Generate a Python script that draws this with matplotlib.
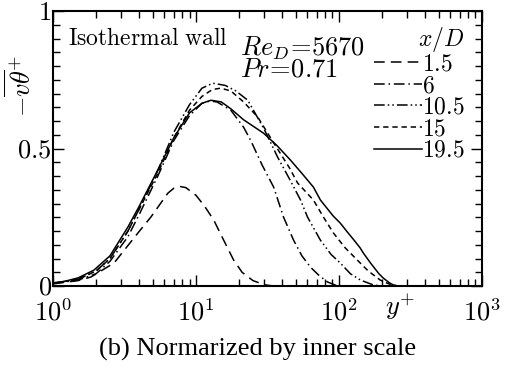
import numpy as np
import matplotlib
matplotlib.use("Agg")
import matplotlib.pyplot as plt
from matplotlib.ticker import MultipleLocator, LogLocator, NullFormatter

plt.rcParams['mathtext.fontset'] = 'cm'
plt.rcParams['font.family'] = 'serif'
plt.rcParams['font.serif'] = ['Liberation Serif', 'DejaVu Serif']

# x/D = 1.5
yp_15 = [1.0, 1.5, 1.84, 2.67, 3.92, 4.83, 6.35, 7.0, 7.8, 8.5, 10.0, 11.5, 13.3, 15.5, 18.3, 21.0, 25.0, 30.0, 35.0]
v_15 = [0.008, 0.02, 0.033, 0.084, 0.193, 0.251, 0.338, 0.356, 0.362, 0.358, 0.33, 0.29, 0.24, 0.17, 0.095, 0.05, 0.02, 0.005, 0.0]

# x/D = 6
yp_6 = [1.0, 1.5, 2.0, 2.5, 3.34, 4.0, 5.4, 7.0, 9.0, 11.0, 12.5, 14.0, 17.5, 21.5, 24.1, 29.0, 34.9, 40.9, 48.1, 55.0, 63.1, 72.0, 83.0, 95.0, 110.0]
v_6 = [0.01, 0.022, 0.045, 0.09, 0.18, 0.26, 0.40, 0.53, 0.62, 0.665, 0.673, 0.67, 0.64, 0.578, 0.53, 0.44, 0.36, 0.251, 0.167, 0.11, 0.069, 0.04, 0.015, 0.003, 0.0]

# x/D = 10.5
yp_105 = [1.0, 1.5, 2.0, 2.5, 3.34, 4.0, 5.4, 7.0, 9.0, 11.0, 13.1, 16.0, 19.0, 23.0, 30.0, 37.2, 45.0, 53.8, 60.2, 74.1, 88.0, 102.0, 120.0, 141.0, 174.0, 200.0]
v_105 = [0.01, 0.025, 0.055, 0.10, 0.20, 0.28, 0.42, 0.56, 0.66, 0.72, 0.738, 0.73, 0.71, 0.676, 0.57, 0.469, 0.39, 0.313, 0.251, 0.167, 0.115, 0.084, 0.045, 0.022, 0.004, 0.0]

# x/D = 15
yp_150 = [1.0, 1.5, 2.0, 2.5, 3.34, 4.0, 5.4, 7.0, 9.0, 11.0, 13.0, 14.9, 17.5, 21.5, 27.0, 35.0, 45.0, 51.3, 66.2, 77.8, 91.4, 110.0, 134.0, 160.0, 194.0, 230.0, 260.0]
v_150 = [0.01, 0.025, 0.055, 0.10, 0.20, 0.28, 0.41, 0.54, 0.64, 0.69, 0.715, 0.72, 0.71, 0.67, 0.615, 0.52, 0.43, 0.375, 0.313, 0.251, 0.193, 0.14, 0.095, 0.055, 0.022, 0.005, 0.0]

# x/D = 19.5
yp_195 = [1.0, 1.2, 1.5, 1.93, 2.5, 3.34, 4.0, 5.4, 7.0, 9.0, 11.0, 12.7, 15.0, 17.5, 21.5, 29.7, 37.0, 45.8, 55.0, 66.2, 74.1, 91.0, 102.0, 115.0, 126.0, 140.0, 148.0, 166.0, 190.0, 204.0, 225.0, 240.0, 260.0]
v_195 = [0.012, 0.017, 0.03, 0.058, 0.11, 0.215, 0.29, 0.422, 0.54, 0.63, 0.665, 0.676, 0.67, 0.645, 0.605, 0.556, 0.51, 0.458, 0.41, 0.36, 0.313, 0.255, 0.229, 0.195, 0.17, 0.14, 0.12, 0.084, 0.045, 0.029, 0.012, 0.004, 0.0]

labels = ['1.5', '6', '10.5', '15', '19.5']
styles = [(0, (7, 4)), (0, (7, 2.5, 1, 2.5)), (0, (7, 2, 1, 2, 1, 2)), (0, (3.5, 2.5)), '-']

fig = plt.figure(figsize=(5.15, 3.73), dpi=100)
ax = fig.add_axes([0.103, 0.233, 0.833, 0.737])

series = [(yp_15, v_15), (yp_6, v_6), (yp_105, v_105), (yp_150, v_150), (yp_195, v_195)]
for (xs, ys), lab, ls in zip(series, labels, styles):
    ax.plot(xs, ys, color='black', lw=1.1, linestyle=ls, label='$' + lab + '$')

ax.set_xscale('log')
ax.set_xlim(1, 1000)
ax.set_ylim(0, 1)
ax.yaxis.set_major_locator(MultipleLocator(0.5))
ax.yaxis.set_minor_locator(MultipleLocator(0.05))
ax.xaxis.set_minor_locator(LogLocator(base=10, subs=np.arange(2, 10)))
ax.xaxis.set_minor_formatter(NullFormatter())
ax.set_xticks([1, 10, 100, 1000])
ax.set_xticklabels([r'$10^0$', r'$10^1$', r'$10^2$', r'$10^3$'])
ax.set_yticks([0, 0.5, 1])
ax.set_yticklabels([r'$0$', r'$0.5$', r'$1$'])
ax.tick_params(which='both', direction='in', top=True, right=True, labelsize=19, width=1.0)
ax.tick_params(which='major', length=8)
ax.tick_params(axis='x', which='major', pad=9)
ax.tick_params(axis='y', which='major', pad=1)
ax.tick_params(which='minor', length=5)
for s in ax.spines.values():
    s.set_linewidth(1.5)

ax.text(0.035, 0.9, r'$\mathrm{Isothermal\ wall}$', transform=ax.transAxes, fontsize=17, va='center')
ax.text(0.435, 0.83, r'$Re_D\!=\!5670$' + '\n' + r'$Pr\!=\!0.71$', transform=ax.transAxes,
        fontsize=19, va='center', linespacing=0.85)

leg = ax.legend(loc='upper right', bbox_to_anchor=(0.975, 0.975), frameon=False, fontsize=17,
                title=r'$x/D$', title_fontsize=17, handlelength=2.0, handletextpad=0.0,
                labelspacing=0.0, borderaxespad=0.2, borderpad=0.1)
leg._legend_box.align = 'right'

fig.text(0.04, 0.77, r'$-\overline{v\theta}^{+}$', rotation=90, fontsize=19, ha='center', va='center')
fig.text(0.777, 0.178, r'$y^{+}$', fontsize=19, ha='center', va='center')
fig.text(0.5, 0.062, '(b) Normarized by inner scale', fontsize=19, ha='center', va='center')

fig.savefig('out.png', dpi=100)
